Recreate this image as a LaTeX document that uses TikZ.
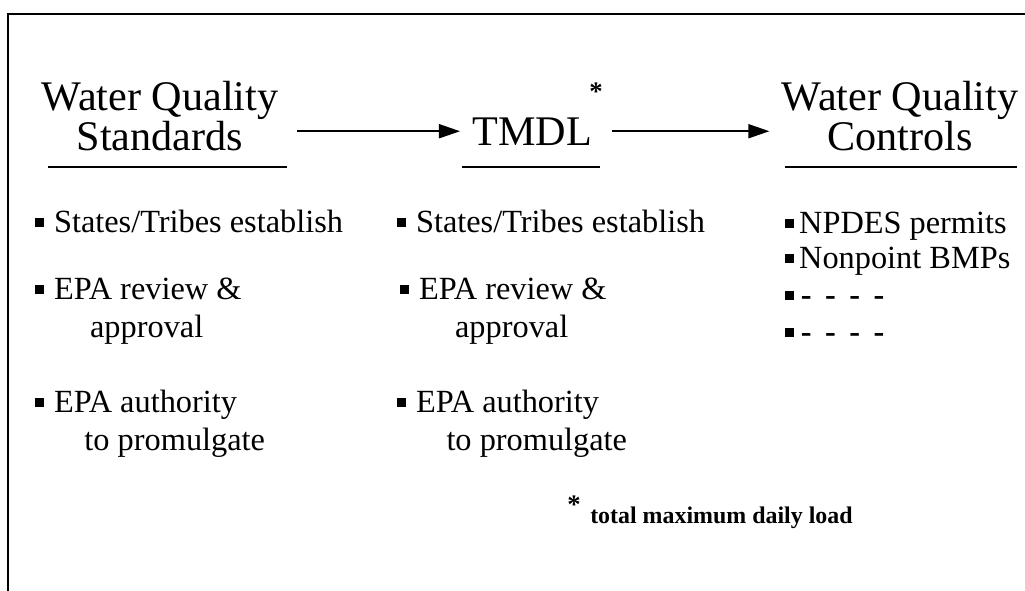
\documentclass[tikz,border=0pt]{standalone}
\usepackage{fontspec}
\setmainfont{Liberation Serif}
\usepackage{tikz}
\usetikzlibrary{arrows.meta,positioning}
% square bullet in front of each item, optional gap after it
\newcommand{\sqb}[1][0.3em]{\rule[0.15em]{0.28em}{0.28em}\hspace{#1}}

\begin{document}
\begin{tikzpicture}[
    x=0.025cm, y=-0.025cm,
    head/.style={inner sep=0pt, anchor=base, align=center, font=\fontsize{30}{26.3}\selectfont},
    item/.style={inner sep=0pt, anchor=base west, align=left, font=\fontsize{23}{27}\selectfont},
    note/.style={inner sep=0pt, anchor=base west, font=\fontsize{17}{20}\selectfont\bfseries},
    arrow/.style={-{Triangle[length=15pt, width=10pt]}, line width=1.2pt},
    rulebar/.style={line width=1.1pt},
    frame/.style={line width=1.3pt}
]
    \useasboundingbox (0,0) rectangle (1025,591);

    % Frame
    \draw[frame] (1025,14) -- (8,14) -- (8,591);

    % Headings (base = baseline of the last line)
    \node[head] (wqs) at (160,150) {Water Quality\\Standards};
    \node[head, anchor=base west] (tmdl) at (472,145) {TMDL};
    \node[note, font=\fontsize{19}{20}\selectfont\bfseries] (tstar) at (589,101) {*};
    \node[head] (wqc) at (900,150) {Water Quality\\Controls};

    % Underlines
    \draw[rulebar] (48,167) -- (287,167);
    \draw[rulebar] (462,167) -- (600,167);
    \draw[rulebar] (785,167) -- (1017,167);

    % Arrows
    \draw[arrow] ([xshift=13pt]wqs.east |- tmdl.west) -- ([xshift=-8.5pt]tmdl.west);
    \draw[arrow] ([xshift=14.5pt]tmdl.east) -- ([xshift=-8.5pt]wqc.west |- tmdl.east);

    % Standards column
    \node[item] (c1a) at (35,232) {\sqb States/Tribes establish};
    \node[item] (c1b) at (35,337) {\sqb EPA review \&\\\hspace*{39pt}approval};
    \node[item] (c1c) at (35,450) {\sqb EPA authority\\\hspace*{35pt}to promulgate};

    % TMDL column
    \node[item] (c2a) at (397,232) {\sqb States/Tribes establish};
    \node[item] (c2b) at (400,337) {\sqb EPA review \&\\\hspace*{39pt}approval};
    \node[item] (c2c) at (397,450) {\sqb EPA authority\\\hspace*{35pt}to promulgate};

    % Controls column
    \node[item] (c3a) at (785,233) {\sqb[0.15em]NPDES permits};
    \node[item] (c3b) at (785,268) {\sqb[0.15em]Nonpoint BMPs};
    \node[item] (c3c) at (785,305) {\sqb[0.2em]\textbf{-\ \,-\ \,-\ \,-}};
    \node[item] (c3d) at (785,342) {\sqb[0.2em]\textbf{-\ \,-\ \,-\ \,-}};

    % Footnote
    \node[note, font=\fontsize{19}{20}\selectfont\bfseries] (fstar) at (567,513) {*};
    \node[note] (fn) at (590,523) {total maximum daily load};
\end{tikzpicture}
\end{document}
